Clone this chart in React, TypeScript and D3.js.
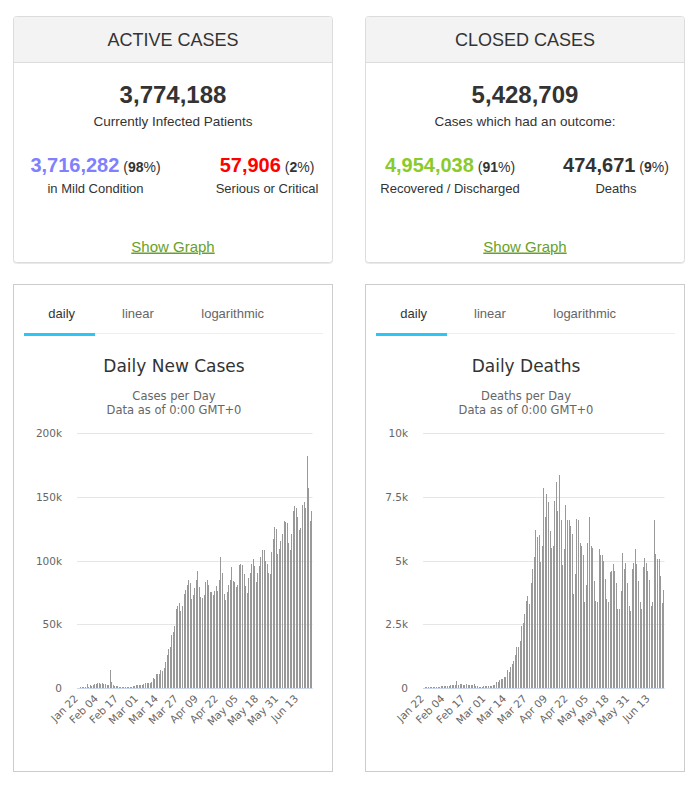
import { useEffect, useRef } from "react";
import * as d3 from "d3";

const W = 698;
const H = 785;

// ---- summary panels ----
const activeTitle = "ACTIVE CASES";
const activeTotal = "3,774,188";
const activeCaption = "Currently Infected Patients";
const activeSplit = [
  { value: "3,716,282", pct: "98", color: "#8080ff", label: "in Mild Condition" },
  { value: "57,906", pct: "2", color: "#ff0000", label: "Serious or Critical" },
];

const closedTitle = "CLOSED CASES";
const closedTotal = "5,428,709";
const closedCaption = "Cases which had an outcome:";
const closedSplit = [
  { value: "4,954,038", pct: "91", color: "#8aca2b", label: "Recovered / Discharged" },
  { value: "474,671", pct: "9", color: "#333333", label: "Deaths" },
];

// ---- chart categories ----
const days = d3
  .timeDay.range(new Date(2020, 0, 22), new Date(2020, 5, 23))
  .map(d3.timeFormat("%b %d"));

const tickLabels = ["Jan 22", "Feb 04", "Feb 17", "Mar 01", "Mar 14", "Mar 27", "Apr 09", "Apr 22", "May 05", "May 18", "May 31", "Jun 13"];
const tabs = ["daily", "linear", "logarithmic"];

// ---- daily new cases ----
const casesJan = [0, 100, 290, 490, 680, 810, 2650, 590, 2070, 1690];
const casesFeb = [2110, 2600, 3100, 3900, 3700, 3200, 3400, 2700, 3000, 2500, 2000, 14100, 4500, 2000, 1600, 1600, 1500, 500, 400, 600, 700, 600, 400, 500, 700, 900, 1200, 1400, 1800];
const casesMar = [1900, 1800, 2400, 2300, 2800, 3900, 4000, 3700, 4000, 4500, 7400, 7000, 10800, 10800, 11000, 13900, 13000, 15500, 20300, 26000, 30300, 32000, 41500, 43500, 48500, 61500, 64000, 66500, 60500, 64000, 74000];
const casesApr = [76500, 81000, 84500, 82000, 70000, 73000, 78500, 84500, 92000, 79000, 71000, 70500, 73000, 83000, 85000, 81000, 75000, 75000, 73000, 76000, 80000, 76000, 85000, 103000, 90000, 74000, 69000, 75000, 80600, 85000];
const casesMay = [95000, 84000, 83000, 79000, 81000, 96500, 97000, 96500, 89000, 80000, 74500, 86000, 90000, 97000, 101000, 96000, 83000, 90000, 96000, 103000, 108000, 108000, 100000, 97000, 90000, 89000, 107000, 117000, 126000, 125000, 105000];
const casesJun = [109000, 115000, 121000, 131000, 130000, 129500, 114000, 108000, 121000, 139000, 143000, 141000, 134000, 124000, 125500, 144000, 146000, 141000, 182000, 157000, 131000, 138600];

// ---- daily deaths ----
const deathsJan = [0, 8, 16, 15, 24, 26, 26, 38, 43, 46];
const deathsFeb = [45, 57, 64, 66, 73, 73, 86, 89, 97, 108, 97, 254, 121, 143, 142, 106, 98, 136, 115, 118, 109, 97, 150, 71, 52, 29, 44, 37, 58];
const deathsMar = [67, 73, 72, 84, 80, 104, 102, 228, 230, 290, 330, 350, 440, 410, 690, 610, 800, 920, 1060, 1300, 1600, 1600, 1850, 2420, 2550, 2880, 3400, 3600, 3300, 4130, 4680];
const deathsApr = [5150, 6200, 5940, 6000, 4950, 5570, 7840, 6700, 7600, 7300, 6170, 5500, 5570, 7330, 8100, 6960, 8360, 6600, 4820, 5440, 7200, 6600, 6600, 6370, 6030, 3680, 4470, 6640, 6600, 5700];
const deathsMay = [5570, 5200, 3380, 4040, 5700, 6720, 5570, 5500, 4200, 3420, 3380, 5440, 5200, 5200, 4980, 4260, 3500, 3360, 4540, 4600, 4850, 4600, 4130, 3100, 3100, 3800, 5280, 4660, 4900, 4100, 3200];
const deathsJun = [3000, 4660, 4900, 5450, 4850, 4200, 3350, 3100, 4740, 5100, 4900, 4600, 4240, 3200, 3380, 6600, 5240, 5070, 5060, 4380, 3320, 3840];

const dailyCases = [...casesJan, ...casesFeb, ...casesMar, ...casesApr, ...casesMay, ...casesJun];
const dailyDeaths = [...deathsJan, ...deathsFeb, ...deathsMar, ...deathsApr, ...deathsMay, ...deathsJun];

const casesTicks = [0, 50000, 100000, 150000, 200000];
const deathsTicks = [0, 2500, 5000, 7500, 10000];

const SANS = "'Liberation Sans', Arial, sans-serif";
const CHART_FONT = "'DejaVu Sans', Verdana, sans-serif";

function drawSummary(svg, bx, title, total, caption, split, cols) {
  const g = svg.append("g").attr("transform", `translate(${bx},16)`);
  const w = 320;
  const h = 247;

  // faint shadow under the card
  g.append("rect")
    .attr("x", 0.5).attr("y", 1.5).attr("width", w - 1).attr("height", h - 1)
    .attr("rx", 3).attr("fill", "none").attr("stroke", "#e9e9e9");
  g.append("rect")
    .attr("x", 0.5).attr("y", 0.5).attr("width", w - 1).attr("height", h - 1)
    .attr("rx", 3).attr("fill", "#fff").attr("stroke", "#dcdcdc");
  g.append("path")
    .attr("d", `M1,46 V3.5 Q1,1 3.5,1 H${w - 3.5} Q${w - 1},1 ${w - 1},3.5 V46 Z`)
    .attr("fill", "#f3f3f3");
  g.append("line")
    .attr("x1", 1).attr("x2", w - 1).attr("y1", 46.5).attr("y2", 46.5)
    .attr("stroke", "#dcdcdc");

  g.append("text")
    .attr("x", w / 2).attr("y", 29.5)
    .attr("text-anchor", "middle")
    .attr("font-family", SANS).attr("font-size", 18).attr("fill", "#333")
    .text(title);

  g.append("text")
    .attr("x", w / 2).attr("y", 87)
    .attr("text-anchor", "middle")
    .attr("font-family", SANS).attr("font-size", 24).attr("font-weight", "bold").attr("fill", "#333")
    .text(total);

  g.append("text")
    .attr("x", w / 2).attr("y", 110)
    .attr("text-anchor", "middle")
    .attr("font-family", SANS).attr("font-size", 13.5).attr("fill", "#333")
    .text(caption);

  split.forEach((s, i) => {
    const t = g.append("text")
      .attr("x", cols[i]).attr("y", 155.5)
      .attr("text-anchor", "middle")
      .attr("font-family", SANS).attr("fill", "#333");
    t.append("tspan").attr("font-size", 20).attr("font-weight", "bold").attr("fill", s.color).text(s.value);
    t.append("tspan").attr("font-size", 14).text(" (");
    t.append("tspan").attr("font-size", 14).attr("font-weight", "bold").text(s.pct);
    t.append("tspan").attr("font-size", 14).text("%)");

    g.append("text")
      .attr("x", cols[i]).attr("y", 176.5)
      .attr("text-anchor", "middle")
      .attr("font-family", SANS).attr("font-size", 13).attr("fill", "#333")
      .text(s.label);
  });

  g.append("text")
    .attr("x", w / 2).attr("y", 235.5)
    .attr("text-anchor", "middle")
    .attr("font-family", SANS).attr("font-size", 15).attr("fill", "#68a12a")
    .attr("text-decoration", "underline")
    .text("Show Graph");
}

function drawChart(svg, bx, title, sub1, values, ticks, plotLeft) {
  const g = svg.append("g").attr("transform", `translate(${bx},284)`);
  const w = 320;
  const h = 488;

  g.append("rect")
    .attr("x", 0.5).attr("y", 0.5).attr("width", w - 1).attr("height", h - 1)
    .attr("fill", "#fff").attr("stroke", "#cccccc");

  // tabs
  const tabX = [48.7, 125, 219.7];
  tabs.forEach((t, i) => {
    g.append("text")
      .attr("x", tabX[i]).attr("y", 33.5)
      .attr("text-anchor", "middle")
      .attr("font-family", SANS).attr("font-size", 13)
      .attr("fill", i === 0 ? "#333" : "#666")
      .text(t);
  });
  g.append("line")
    .attr("x1", 82).attr("x2", 310).attr("y1", 49.5).attr("y2", 49.5)
    .attr("stroke", "#eeeeee");
  g.append("rect")
    .attr("x", 11).attr("y", 49).attr("width", 71).attr("height", 3)
    .attr("fill", "#2cc5f5");

  // titles
  g.append("text")
    .attr("x", 161).attr("y", 88)
    .attr("text-anchor", "middle")
    .attr("font-family", CHART_FONT).attr("font-size", 17).attr("fill", "#333")
    .text(title);
  [sub1, "Data as of 0:00 GMT+0"].forEach((s, i) => {
    g.append("text")
      .attr("x", 161).attr("y", 116 + i * 14.3)
      .attr("text-anchor", "middle")
      .attr("font-family", CHART_FONT).attr("font-size", 11.5).attr("fill", "#666")
      .text(s);
  });

  const top = 149.3;
  const bottom = 403.7;
  const plotRight = 299.5;

  const y = d3.scaleLinear().domain([0, ticks[ticks.length - 1]]).range([bottom, top]);
  const x = d3.scaleBand().domain(days).range([plotLeft, plotRight]);

  const fmt = (v) => (v === 0 ? "0" : `${v / 1000}k`);

  ticks.forEach((t) => {
    g.append("line")
      .attr("x1", plotLeft).attr("x2", plotRight)
      .attr("y1", Math.round(y(t)) + 0.5).attr("y2", Math.round(y(t)) + 0.5)
      .attr("stroke", "#e6e6e6");
    g.append("text")
      .attr("x", plotLeft - 15).attr("y", y(t) + 4)
      .attr("text-anchor", "end")
      .attr("font-family", CHART_FONT).attr("font-size", 10.5).attr("fill", "#666")
      .text(fmt(t));
  });

  g.append("g")
    .attr("shape-rendering", "crispEdges")
    .selectAll("rect")
    .data(values)
    .join("rect")
    .attr("x", (_d, i) => x(days[i]) + x.bandwidth() * 0.2)
    .attr("width", 1)
    .attr("y", (d) => y(d))
    .attr("height", (d) => bottom - y(d))
    .attr("fill", "#999999");

  g.append("line")
    .attr("x1", plotLeft).attr("x2", plotRight)
    .attr("y1", Math.round(bottom) + 0.5).attr("y2", Math.round(bottom) + 0.5)
    .attr("stroke", "#ccd6eb");

  tickLabels.forEach((lbl) => {
    const tx = x(lbl) + x.bandwidth() / 2 + 1;
    const ty = bottom + 11.5;
    g.append("text")
      .attr("transform", `translate(${tx},${ty}) rotate(-45)`)
      .attr("text-anchor", "end")
      .attr("font-family", CHART_FONT).attr("font-size", 10.5).attr("fill", "#666")
      .text(lbl);
  });
}

export default function App() {
  const ref = useRef(null);

  useEffect(() => {
    const svg = d3.select(ref.current);
    svg.selectAll("*").remove();

    drawSummary(svg, 13, activeTitle, activeTotal, activeCaption, activeSplit, [82.5, 254]);
    drawSummary(svg, 365, closedTitle, closedTotal, closedCaption, closedSplit, [85, 251]);

    drawChart(svg, 13, "Daily New Cases", "Cases per Day", dailyCases, casesTicks, 64);
    drawChart(svg, 365, "Daily Deaths", "Deaths per Day", dailyDeaths, deathsTicks, 58);
  }, []);

  return (
    <svg
      ref={ref}
      width={W}
      height={H}
      style={{ position: "absolute", left: 0, top: 0, background: "#fff" }}
    />
  );
}
